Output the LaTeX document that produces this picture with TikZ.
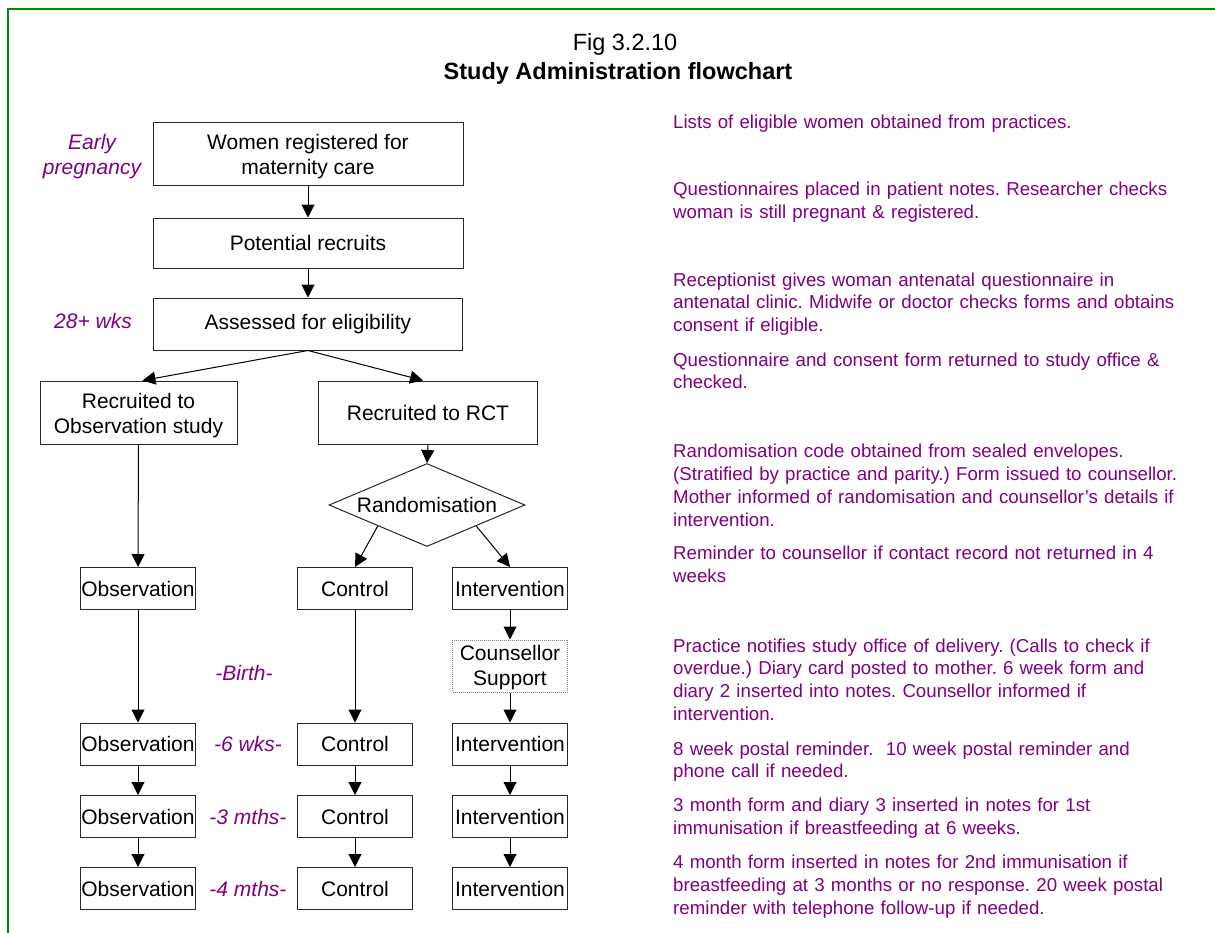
\documentclass[tikz,border=0pt]{standalone}
\usepackage{fontspec}
\setmainfont{Liberation Sans}
\usetikzlibrary{arrows.meta,shapes.geometric,calc}
\definecolor{notepurple}{RGB}{128,0,128}
\definecolor{framegreen}{RGB}{0,140,0}
\definecolor{boxline}{RGB}{40,40,40}
\frenchspacing

\begin{document}
\begin{tikzpicture}[x=1pt,y=-1pt,
  box/.style={draw=boxline, line width=1pt, fill=white, inner sep=0pt,
    align=center, font=\fontsize{21}{25}\selectfont},
  flow/.style={line width=1pt, -{Triangle[length=13pt,width=13pt]}},
  when/.style={text=notepurple, align=center, inner sep=0pt,
    font=\fontsize{21}{25}\selectfont\itshape},
  note/.style={text=notepurple, anchor=north west, inner sep=0pt,
    text width=540pt, align=left, font=\fontsize{18.67}{22.8}\selectfont},
]
\useasboundingbox (0,0) rectangle (1215,932);
\clip (0,0) rectangle (1215,932);

% page frame
\draw[framegreen, line width=2pt] (8,945) -- (8,9) -- (1230,9);

% heading
\node[anchor=base, inner sep=0pt, font=\fontsize{23.5}{28}\selectfont] (fig) at (625,50) {Fig 3.2.10};
\node[anchor=base, inner sep=0pt, font=\fontsize{23.5}{28}\selectfont\bfseries] (head) at (618,79.5) {Study Administration flowchart};

% main trunk
\node[box, minimum width=310pt, minimum height=63pt] (reg) at (308,153.5) {\rule{0pt}{22pt}Women registered for\\maternity care};
\node[box, minimum width=310pt, minimum height=50pt] (pot) at (308,243) {Potential recruits};
\node[box, minimum width=309pt, minimum height=52pt] (elig) at (308,324) {Assessed for eligibility};

\node[box, minimum width=197pt, minimum height=63pt] (robs) at (138.5,412.5) {\rule{0pt}{22pt}Recruited to\\Observation study};
\node[box, minimum width=219pt, minimum height=63pt] (rrct) at (428,412.5) {Recruited to RCT};

\node[draw=boxline, line width=1pt, fill=white, shape=diamond, aspect=2.36,
  inner sep=0pt, minimum width=196pt, minimum height=83pt,
  font=\fontsize{21}{25}\selectfont] (rand) at (427,505) {Randomisation};

% first follow-up row
\node[box, minimum width=115pt, minimum height=42pt] (obsA) at (138,588.5) {Observation};
\node[box, minimum width=115pt, minimum height=42pt] (ctlA) at (355,588.5) {Control};
\node[box, minimum width=115pt, minimum height=42pt] (intA) at (510,588.5) {Intervention};

\node[box, draw=gray, densely dotted, minimum width=115pt, minimum height=52pt] (sup) at (510,666) {\rule{0pt}{19pt}Counsellor\\Support};

% later follow-up rows
\foreach \r/\y in {B/744, C/816.5, D/888.5} {
  \node[box, minimum width=115pt, minimum height=42pt] (obs\r) at (138,\y) {Observation};
  \node[box, minimum width=115pt, minimum height=42pt] (ctl\r) at (355,\y) {Control};
  \node[box, minimum width=115pt, minimum height=42pt] (int\r) at (510,\y) {Intervention};
}

% timing labels
\node[when] (early) at (92,157) {Early\\pregnancy};
\node[when] (wk28) at (93,321) {28+ wks};
\node[when] (birth) at (244,673) {-Birth-};
\node[when] (wk6) at (248,744) {-6 wks-};
\node[when] (mth3) at (248,816.5) {-3 mths-};
\node[when] (mth4) at (248,888.5) {-4 mths-};

% connectors
\draw[flow] (reg) -- (pot);
\draw[flow] (pot) -- (elig);
\draw[flow] (elig.south) -- ([xshift=4pt]robs.north);
\draw[flow] (elig.south) -- ([xshift=-5pt]rrct.north);
\draw[flow] (rrct.south) -- (rand.north);
\draw[flow] ($(rand.west)!0.5!(rand.south)$) -- (ctlA.north);
\draw[flow] ($(rand.east)!0.5!(rand.south)$) -- (intA.north);
\draw[flow] (robs) -- (obsA);
\draw[flow] (obsA) -- (obsB);
\draw[flow] (ctlA) -- (ctlB);
\draw[flow] (intA) -- (sup);
\draw[flow] (sup) -- (intB);
\draw[flow] (obsB) -- (obsC);
\draw[flow] (obsC) -- (obsD);
\draw[flow] (ctlB) -- (ctlC);
\draw[flow] (ctlC) -- (ctlD);
\draw[flow] (intB) -- (intC);
\draw[flow] (intC) -- (intD);

% administration notes
\node[note] (n1) at (673,112.5) {\strut Lists of eligible women obtained from practices.};
\node[note] (n2) at (673,179.5) {\strut Questionnaires placed in patient notes. Researcher checks\\woman is still pregnant \& registered.};
\node[note] (n3) at (673,270) {\strut Receptionist gives woman antenatal questionnaire in\\antenatal clinic. Midwife or doctor checks forms and obtains\\consent if eligible.};
\node[note] (n4) at (673,350) {\strut Questionnaire and consent form returned to study office \&\\checked.};
\node[note] (n5) at (673,441.5) {\strut Randomisation code obtained from sealed envelopes.\\(Stratified by practice and parity.) Form issued to counsellor.\\Mother informed of randomisation and counsellor’s details if\\intervention.};
\node[note] (n6) at (673,543.5) {\strut Reminder to counsellor if contact record not returned in 4\\weeks};
\node[note] (n7) at (673,636) {\strut Practice notifies study office of delivery. (Calls to check if\\overdue.) Diary card posted to mother. 6 week form and\\diary 2 inserted into notes. Counsellor informed if\\intervention.};
\node[note] (n8) at (673,739) {\strut 8 week postal reminder.\ \ 10 week postal reminder and\\phone call if needed.};
\node[note] (n9) at (673,795.5) {\strut 3 month form and diary 3 inserted in notes for 1st\\immunisation if breastfeeding at 6 weeks.};
\node[note] (n10) at (673,852.5) {\strut 4 month form inserted in notes for 2nd immunisation if\\breastfeeding at 3 months or no response. 20 week postal\\reminder with telephone follow-up if needed.};
\end{tikzpicture}
\end{document}
